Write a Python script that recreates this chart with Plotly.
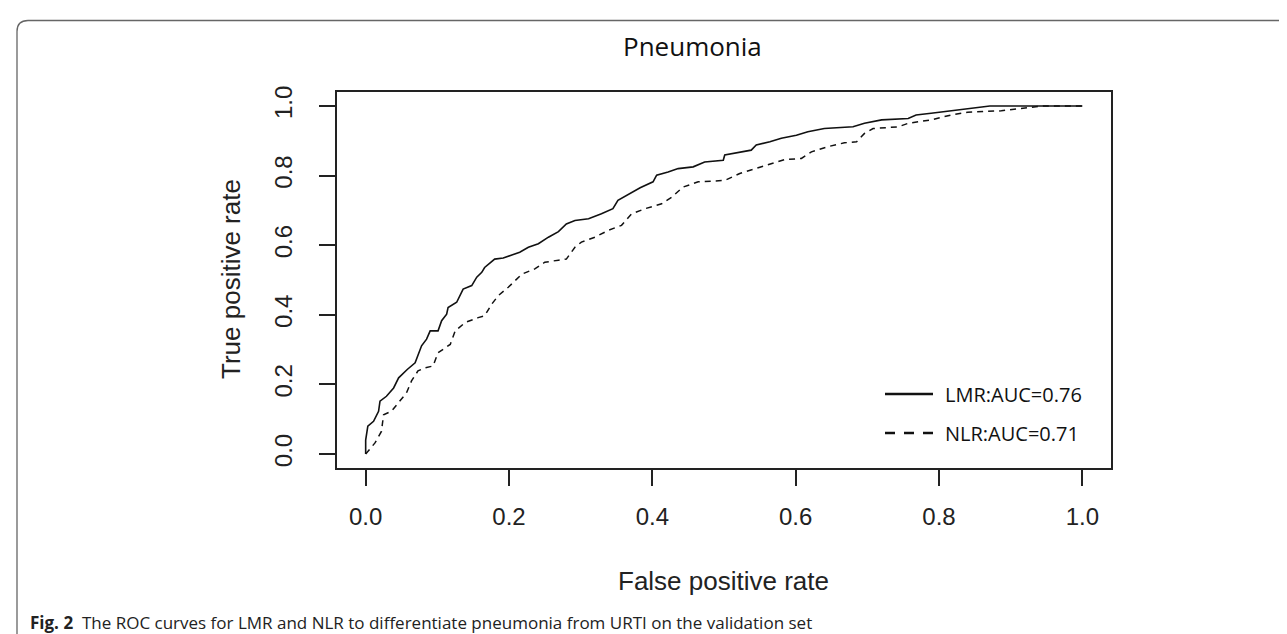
import plotly.graph_objects as go

# ---- data ----
lmr_fpr = [0.0, 0.0, 0.003, 0.011, 0.018, 0.020, 0.029, 0.039, 0.046, 0.058, 0.069, 0.073,
           0.078, 0.085, 0.090, 0.101, 0.106, 0.113, 0.115, 0.127, 0.136, 0.148, 0.155, 0.162,
           0.166, 0.180, 0.192, 0.215, 0.227, 0.241, 0.255, 0.269, 0.280, 0.292, 0.311, 0.329,
           0.345, 0.352, 0.369, 0.383, 0.401, 0.406, 0.422, 0.436, 0.457, 0.473, 0.499, 0.501,
           0.538, 0.545, 0.564, 0.580, 0.601, 0.617, 0.640, 0.680, 0.696, 0.720, 0.757, 0.768,
           0.789, 0.817, 0.847, 0.871, 1.0]
lmr_tpr = [0.0, 0.04, 0.080, 0.094, 0.123, 0.152, 0.166, 0.190, 0.219, 0.243, 0.262, 0.286,
           0.311, 0.330, 0.354, 0.354, 0.383, 0.402, 0.421, 0.436, 0.474, 0.484, 0.508, 0.522,
           0.536, 0.560, 0.563, 0.580, 0.594, 0.604, 0.623, 0.639, 0.661, 0.671, 0.676, 0.690,
           0.705, 0.729, 0.748, 0.765, 0.782, 0.801, 0.810, 0.820, 0.825, 0.839, 0.844, 0.859,
           0.873, 0.888, 0.897, 0.907, 0.916, 0.926, 0.935, 0.940, 0.950, 0.960, 0.964, 0.974,
           0.979, 0.986, 0.993, 1.0, 1.0]

nlr_fpr = [0.0, 0.013, 0.022, 0.025, 0.036, 0.048, 0.057, 0.064, 0.073, 0.083, 0.094, 0.101,
           0.118, 0.125, 0.139, 0.157, 0.166, 0.176, 0.185, 0.199, 0.208, 0.218, 0.236, 0.250,
           0.269, 0.280, 0.292, 0.301, 0.320, 0.338, 0.357, 0.371, 0.390, 0.413, 0.427, 0.443,
           0.464, 0.501, 0.522, 0.543, 0.566, 0.585, 0.608, 0.622, 0.645, 0.668, 0.685, 0.696,
           0.708, 0.743, 0.757, 0.789, 0.817, 0.840, 0.887, 0.915, 0.933, 0.945, 1.0]
nlr_tpr = [0.0, 0.032, 0.065, 0.113, 0.123, 0.152, 0.176, 0.210, 0.239, 0.248, 0.253, 0.291,
           0.315, 0.354, 0.378, 0.392, 0.397, 0.431, 0.455, 0.479, 0.498, 0.517, 0.532, 0.551,
           0.557, 0.560, 0.594, 0.609, 0.623, 0.642, 0.657, 0.690, 0.705, 0.719, 0.738, 0.767,
           0.782, 0.786, 0.806, 0.820, 0.834, 0.846, 0.849, 0.868, 0.883, 0.894, 0.897, 0.921,
           0.935, 0.940, 0.950, 0.960, 0.974, 0.982, 0.986, 0.993, 0.998, 1.0, 1.0]

tick_vals = [0.0, 0.2, 0.4, 0.6, 0.8, 1.0]
tick_text = ["0.0", "0.2", "0.4", "0.6", "0.8", "1.0"]
legend_labels = ["LMR:AUC=0.76", "NLR:AUC=0.71"]

# ---- layout geometry (pixels) ----
W, H = 1287, 634
L, R, T, B = 329, 1103, 84, 460


def px(x):
    return (x - L) / (R - L)


def py(y):
    return (B - y) / (B - T)


fig = go.Figure()
fig.add_trace(go.Scatter(x=lmr_fpr, y=lmr_tpr, mode="lines", name=legend_labels[0],
                         line=dict(color="#111111", width=1.6), showlegend=False))
fig.add_trace(go.Scatter(x=nlr_fpr, y=nlr_tpr, mode="lines", name=legend_labels[1],
                         line=dict(color="#111111", width=1.5, dash="6px,5px"), showlegend=False))

axis_common = dict(range=[-0.04, 1.04], tickvals=tick_vals, ticktext=tick_text,
                   showgrid=False, zeroline=False, showline=True, mirror=True,
                   linecolor="#222222", linewidth=1.5, ticks="outside", ticklen=16,
                   tickwidth=1.5, tickcolor="#222222",
                   tickfont=dict(family="Liberation Sans, Arial", size=24, color="#222222"))

fig.update_layout(
    width=W, height=H,
    margin=dict(l=L, r=W - R, t=T, b=H - B, pad=0),
    paper_bgcolor="white", plot_bgcolor="white",
    xaxis=dict(**axis_common, ticklabelstandoff=10),
    yaxis=dict(**axis_common, tickangle=-90, ticklabelstandoff=18),
    showlegend=False,
)

annotations = [
    dict(text="Pneumonia", x=px(684), y=py(38), xref="paper", yref="paper",
         showarrow=False, xanchor="center", yanchor="middle",
         font=dict(family="Open Sans", size=26, color="#111111")),
    dict(text="False positive rate", x=px(715), y=py(573), xref="paper", yref="paper",
         showarrow=False, xanchor="center", yanchor="middle",
         font=dict(family="Liberation Sans, Arial", size=26, color="#222222")),
    dict(text="True positive rate", x=px(223), y=py(271), xref="paper", yref="paper",
         showarrow=False, xanchor="center", yanchor="middle", textangle=-90,
         font=dict(family="Liberation Sans, Arial", size=26, color="#222222")),
    dict(text="<b>Fig. 2</b>  The ROC curves for LMR and NLR to differentiate pneumonia from URTI on the validation set",
         x=px(21), y=py(614), xref="paper", yref="paper",
         showarrow=False, xanchor="left", yanchor="middle", borderpad=0,
         font=dict(family="Open Sans", size=17, color="#222222")),
    dict(text=legend_labels[0], x=px(935), y=py(386), xref="paper", yref="paper",
         showarrow=False, xanchor="left", yanchor="middle",
         font=dict(family="Open Sans", size=20, color="#111111")),
    dict(text=legend_labels[1], x=px(935), y=py(425), xref="paper", yref="paper",
         showarrow=False, xanchor="left", yanchor="middle",
         font=dict(family="Open Sans", size=20, color="#111111")),
]
fig.update_layout(annotations=annotations)

# legend sample lines
shapes = [
    dict(type="line", xref="paper", yref="paper", x0=px(877), x1=px(925), y0=py(386), y1=py(386),
         line=dict(color="#111111", width=2.6)),
    dict(type="line", xref="paper", yref="paper", x0=px(877), x1=px(925), y0=py(425), y1=py(425),
         line=dict(color="#111111", width=2.6, dash="10px,9px")),
]

# rounded figure frame (top-left corner)
frame_path = (f"M {px(1287)},{py(12.5)} L {px(20)},{py(12.5)} "
              f"Q {px(9)},{py(12.5)} {px(9)},{py(23.5)} "
              f"L {px(9)},{py(627)} Q {px(9)},{py(634)} {px(13)},{py(636)}")
shapes.append(dict(type="path", xref="paper", yref="paper", path=frame_path,
                   line=dict(color="#666666", width=1.3)))
fig.update_layout(shapes=shapes)

fig.write_html("out.html")
